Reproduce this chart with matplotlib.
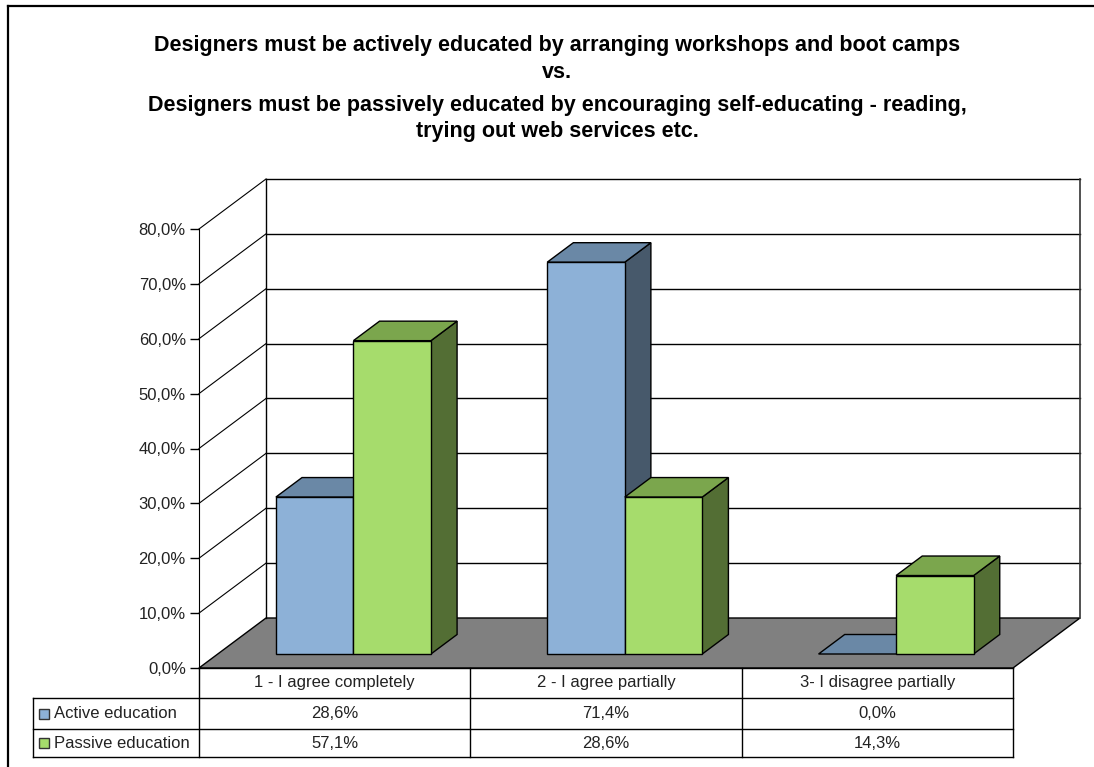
import matplotlib
matplotlib.use("Agg")
import matplotlib.pyplot as plt
from matplotlib.patches import Polygon, Rectangle
from matplotlib.lines import Line2D
from matplotlib.ticker import FuncFormatter

plt.rcParams['font.family'] = ['Liberation Sans', 'DejaVu Sans']

# dados
categorias = ["1 - I agree completely", "2 - I agree partially", "3- I disagree partially"]
series = ["Active education", "Passive education"]
ativo = [28.6, 71.4, 0.0]
passivo = [57.1, 28.6, 14.3]
valores = [ativo, passivo]

# cores (frente, topo, lateral)
cores = [
    ("#8DB1D7", "#6A88A6", "#47596B"),
    ("#A6DC6C", "#7BA64D", "#536E34"),
]

W, H, DPI = 1094, 767, 100
fig = plt.figure(figsize=(W / DPI, H / DPI), dpi=DPI)

# eixo = plano frontal do grafico 3D
x_esq, x_dir, y_top, y_base = 199, 1013, 229, 668
ax = fig.add_axes([x_esq / W, 1 - y_base / H, (x_dir - x_esq) / W, (y_base - y_top) / H])
ax.set_xlim(0, len(categorias))
ax.set_ylim(0, 80)

# profundidade (em unidades de dados)
px_x = (x_dir - x_esq) / len(categorias)
px_y = (y_base - y_top) / 80
DX = 67 / px_x
DY = 50 / px_y
d0, d1 = 0.28, 0.67

for s in ["top", "right", "bottom"]:
    ax.spines[s].set_visible(False)
ax.spines["left"].set_color("black")
ax.spines["left"].set_zorder(6)
ax.set_xticks([])
ax.set_yticks(range(0, 81, 10))
ax.yaxis.set_major_formatter(FuncFormatter(lambda v, p: f"{v:.1f}%".replace(".", ",")))
ax.tick_params(axis="y", length=6.5, width=1, pad=3, labelsize=12, labelcolor="#222222")

K = dict(clip_on=False)
n = len(categorias)

# piso
ax.add_patch(Polygon([(0, 0), (n, 0), (n + DX, DY), (DX, DY)], closed=True,
                     facecolor="#808080", edgecolor="black", lw=1, zorder=1, **K))

# grade: parede esquerda e fundo
for v in range(10, 81, 10):
    ax.plot([0, DX], [v, v + DY], color="black", lw=0.8, zorder=2, **K)
    ax.plot([DX, n + DX], [v + DY, v + DY], color="black", lw=1.0, zorder=2, **K)
ax.plot([DX, DX], [DY, 80 + DY], color="black", lw=1, zorder=2, **K)
ax.plot([n + DX, n + DX], [DY, 80 + DY], color="#333333", lw=1.2, zorder=2, **K)


def barra(x0, w, h, cf, ct, cs, z):
    fx, fy = x0 + d0 * DX, d0 * DY
    bx, by = (d1 - d0) * DX, (d1 - d0) * DY
    ed = dict(edgecolor="black", lw=1, zorder=z, joinstyle="miter", **K)
    # lateral
    ax.add_patch(Polygon([(fx + w, fy), (fx + w + bx, fy + by),
                          (fx + w + bx, fy + h + by), (fx + w, fy + h)], facecolor=cs, **ed))
    # topo
    ax.add_patch(Polygon([(fx, fy + h), (fx + w, fy + h),
                          (fx + w + bx, fy + h + by), (fx + bx, fy + h + by)], facecolor=ct, **ed))
    # frente
    if h > 0:
        ax.add_patch(Rectangle((fx, fy), w, h, facecolor=cf, **ed))


larg = 2 / 7
for i in range(n):
    for j, vals in enumerate(valores):
        barra(i + 1.5 / 7 + j * larg, larg, vals[i], *cores[j], z=3 + j)

# tabela de dados
linhas_y = [0, -30 / px_y, -61 / px_y, -89 / px_y]
x_leg = (33 - x_esq) / px_x
tab = dict(color="black", lw=1, zorder=6, **K)
ax.plot([0, n], [linhas_y[0]] * 2, **tab)
for yy in linhas_y[1:]:
    ax.plot([x_leg, n], [yy, yy], **tab)
ax.plot([x_leg, x_leg], [linhas_y[1], linhas_y[3]], **tab)
for c in range(n + 1):
    ax.plot([c, c], [linhas_y[0], linhas_y[3]], **tab)

txt = dict(ha="center", va="center", fontsize=12, color="#222222", clip_on=False)
for i, cat in enumerate(categorias):
    ax.text(i + 0.5, (linhas_y[0] + linhas_y[1]) / 2, cat, **txt)
    for j, vals in enumerate(valores):
        yc = (linhas_y[j + 1] + linhas_y[j + 2]) / 2
        ax.text(i + 0.5, yc, f"{vals[i]:.1f}%".replace(".", ","), **txt)

for j, nome in enumerate(series):
    yc = (linhas_y[j + 1] + linhas_y[j + 2]) / 2
    sq_w = 10 / px_x
    sq_h = 10 / px_y
    ax.add_patch(Rectangle((x_leg + 6 / px_x, yc - sq_h / 2), sq_w, sq_h,
                           facecolor=cores[j][0], edgecolor="#333333", lw=1, zorder=6, **K))
    ax.text(x_leg + 21 / px_x, yc, nome, ha="left", va="center", fontsize=12,
            color="#222222", clip_on=False)

# titulo
titulo = ["Designers must be actively educated by arranging workshops and boot camps",
          "vs.",
          "Designers must be passively educated by encouraging self-educating - reading,",
          "trying out web services etc."]
for linha, yp in zip(titulo, [46, 72, 106, 132]):
    fig.text(557 / W, 1 - yp / H, linha, ha="center", va="center",
             fontsize=15.5, fontweight="bold", color="black")

# moldura externa
fig.add_artist(Line2D([8 / W, 8 / W], [0, 1 - 6 / H], color="black", lw=1.6))
fig.add_artist(Line2D([8 / W, 1], [1 - 6 / H, 1 - 6 / H], color="black", lw=1.6))

fig.savefig("out.png", dpi=DPI)
plt.close(fig)
